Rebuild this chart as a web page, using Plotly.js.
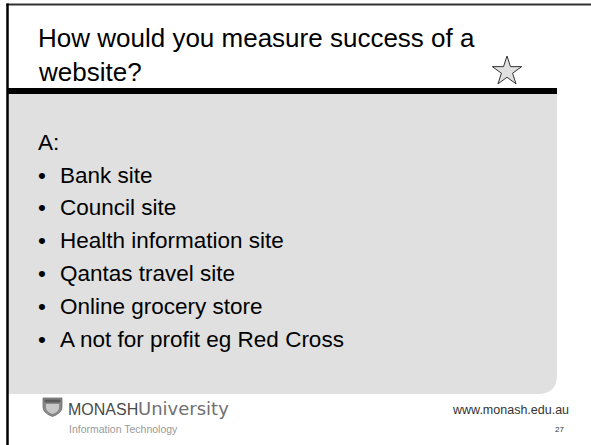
<!DOCTYPE html>
<html>
<head>
<meta charset="utf-8">
<script src="https://cdn.plot.ly/plotly-3.0.1.min.js"></script>
<style>html,body{margin:0;padding:0;background:#fff;}#chart{width:591px;height:445px;}</style>
</head>
<body>
<div id="chart"></div>
<script>
// Slide content
const titleLines = ["How would you measure success of a", "website?"];
const leadText = "A:";
const bulletItems = [
  "Bank site",
  "Council site",
  "Health information site",
  "Qantas travel site",
  "Online grocery store",
  "A not for profit eg Red Cross"
];
const footerUrl = "www.monash.edu.au";
const pageNumber = "27";
const logoMain = "MONASH";
const logoSub = "University";
const logoFaculty = "Information Technology";

const SANS = "Liberation Sans, Arial, sans-serif";

// helper: convert baseline to annotation middle for single-line text
function mid(baseline, size) { return baseline - 0.35 * size; }

const annotations = [];
// title
const titleSize = 26;
titleLines.forEach((t, i) => {
  annotations.push({
    x: 37, y: mid(47 + i * 34, titleSize), xref: 'x', yref: 'y',
    xanchor: 'left', yanchor: 'middle', showarrow: false, borderpad: 0,
    text: t, font: {family: SANS, size: titleSize, color: '#000'}
  });
});
// body
const bodySize = 22.5;
annotations.push({
  x: 37, y: mid(150, bodySize), xref: 'x', yref: 'y',
  xanchor: 'left', yanchor: 'middle', showarrow: false, borderpad: 0,
  text: leadText, font: {family: SANS, size: bodySize, color: '#000'}
});
bulletItems.forEach((t, i) => {
  const base = 183 + i * 32.8;
  annotations.push({
    x: 41.5, y: mid(base, bodySize), xref: 'x', yref: 'y',
    xanchor: 'center', yanchor: 'middle', showarrow: false, borderpad: 0,
    text: "•", font: {family: SANS, size: bodySize, color: '#000'}
  });
  annotations.push({
    x: 58.5, y: mid(base, bodySize), xref: 'x', yref: 'y',
    xanchor: 'left', yanchor: 'middle', showarrow: false, borderpad: 0,
    text: t, font: {family: SANS, size: bodySize, color: '#000'}
  });
});
// footer
annotations.push({
  x: 569.5, y: mid(414, 12.5), xref: 'x', yref: 'y',
  xanchor: 'right', yanchor: 'middle', showarrow: false, borderpad: 0,
  text: footerUrl, font: {family: SANS, size: 12.5, color: '#333'}
});
annotations.push({
  x: 564.5, y: mid(432, 8), xref: 'x', yref: 'y',
  xanchor: 'right', yanchor: 'middle', showarrow: false, borderpad: 0,
  text: pageNumber, font: {family: SANS, size: 8, color: '#333'}
});
// logo text
annotations.push({
  x: 66.5, y: mid(415, 16), xref: 'x', yref: 'y',
  xanchor: 'left', yanchor: 'middle', showarrow: false, borderpad: 0,
  text: logoMain, font: {family: SANS, size: 16, color: '#4a4a4a'}
});
annotations.push({
  x: 137, y: mid(415, 18), xref: 'x', yref: 'y',
  xanchor: 'left', yanchor: 'middle', showarrow: false, borderpad: 0,
  text: logoSub, font: {family: "DejaVu Sans, sans-serif", size: 18, color: '#707070'}
});
annotations.push({
  x: 67.5, y: mid(433, 10.5), xref: 'x', yref: 'y',
  xanchor: 'left', yanchor: 'middle', showarrow: false, borderpad: 0,
  text: logoFaculty, font: {family: SANS, size: 10.5, color: '#9a9a9a'}
});

const shapes = [
  // grey content panel with rounded bottom-right corner
  {type: 'path', xref: 'x', yref: 'y', layer: 'below',
   path: 'M 8 94 L 557 94 L 557 375 Q 557 394 538 394 L 8 394 Z',
   fillcolor: '#e0e0e0', line: {width: 0}},
  // thick black rule under title
  {type: 'rect', xref: 'x', yref: 'y', x0: 7, x1: 557, y0: 88, y1: 94,
   fillcolor: '#000', line: {width: 0}},
  // top frame line
  {type: 'line', xref: 'x', yref: 'y', x0: 6.5, x1: 591, y0: 4.5, y1: 4.5,
   line: {color: '#333', width: 2}},
  // left frame line
  {type: 'line', xref: 'x', yref: 'y', x0: 7.5, x1: 7.5, y0: 3.5, y1: 445,
   line: {color: '#000', width: 2.5}},
  // shield emblem
  {type: 'path', xref: 'x', yref: 'y',
   path: 'M 43 398 L 62 398 L 62 407 Q 62 413 52.5 416.5 Q 43 413 43 407 Z',
   fillcolor: '#8a8a8a', line: {color: '#6a6a6a', width: 0.8}},
  {type: 'path', xref: 'x', yref: 'y',
   path: 'M 46 404 L 59 404 L 59 407.5 Q 59 411.5 52.5 414 Q 46 411.5 46 407.5 Z',
   fillcolor: '#c8c8c8', line: {width: 0}},
  {type: 'rect', xref: 'x', yref: 'y', x0: 44.5, x1: 60.5, y0: 399.5, y1: 402.5,
   fillcolor: '#5a5a5a', line: {width: 0}}
];

// star decoration as a marker
const starX = [507];
const starY = [71.4];

const data = [{
  type: 'scatter', mode: 'markers', x: starX, y: starY, hoverinfo: 'skip',
  marker: {symbol: 'star', size: 22, color: '#e0e0e0', line: {color: '#333', width: 1}}
}];

const layout = {
  width: 591, height: 445,
  margin: {l: 0, r: 0, t: 0, b: 0, pad: 0},
  paper_bgcolor: '#fff', plot_bgcolor: '#fff',
  showlegend: false,
  xaxis: {range: [0, 591], visible: false, fixedrange: true},
  yaxis: {range: [445, 0], visible: false, fixedrange: true},
  shapes: shapes,
  annotations: annotations
};

Plotly.newPlot('chart', data, layout, {displayModeBar: false, staticPlot: true});
</script>
</body>
</html>
